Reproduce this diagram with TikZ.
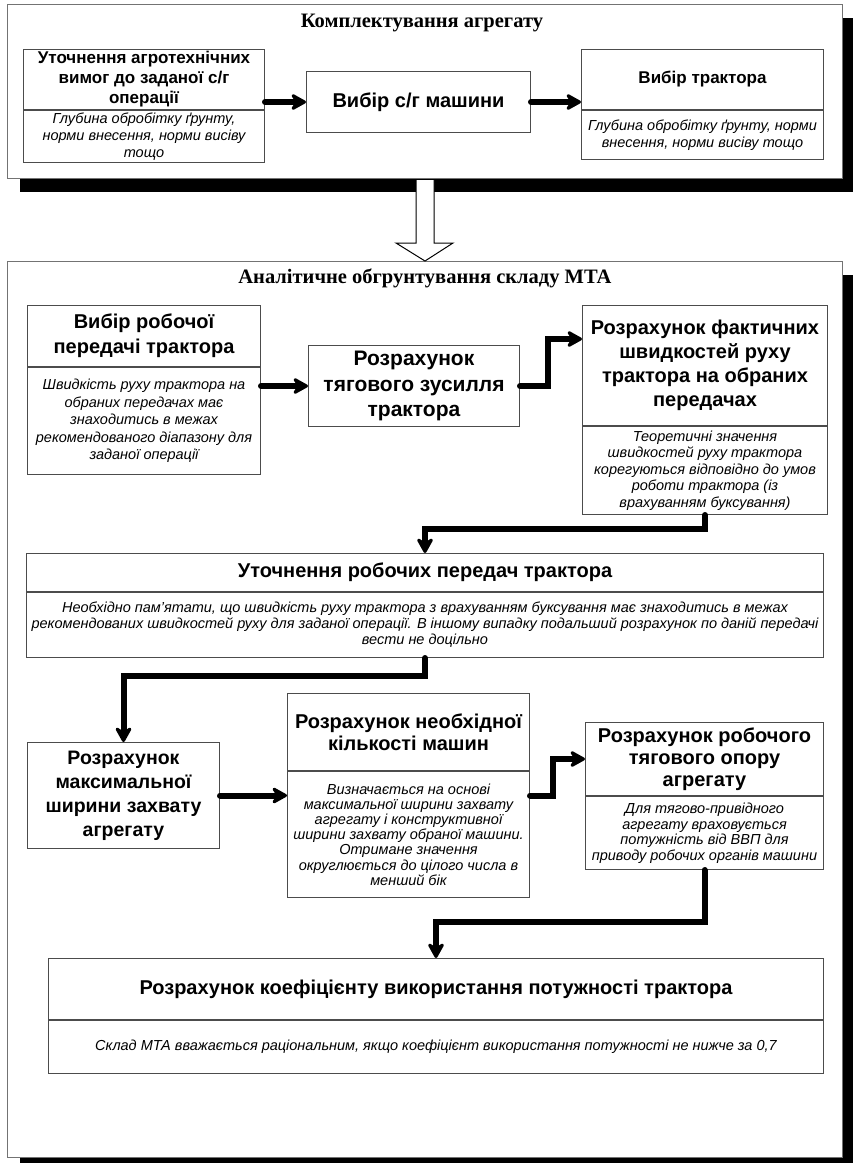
\documentclass[tikz,border=0pt]{standalone}
\usepackage{fontspec}
\setmainfont{Liberation Sans}
\newfontfamily\framefont{Liberation Serif}
\usepackage{tikz}
\usetikzlibrary{positioning,calc,shadows,arrows.meta}

\tikzset{
  frame/.style={draw=black!55, line width=1pt, fill=white,
    drop shadow={shadow xshift=12pt, shadow yshift=-13pt, fill=black, opacity=1}},
  frametitle/.style={font=\framefont\bfseries\fontsize{20.5}{24}\selectfont},
  hdbox/.style={draw=black!70, line width=1pt, fill=white, align=center, inner sep=2pt,
    font=\bfseries\fontsize{20}{24}\selectfont},
  smallhd/.style={font=\bfseries\fontsize{17}{20}\selectfont},
  dsbox/.style={hdbox, font=\itshape\fontsize{14.5}{16.5}\selectfont},
  conn/.style={line width=6pt, line cap=round, -{Stealth[length=19pt, width=21pt, inset=7pt, round]}}
}

\begin{document}
\begin{tikzpicture}[x=1pt,y=-1pt]
    \useasboundingbox (0,0) rectangle (853,1163);
    \node[frame, anchor=north west, minimum width=835pt, minimum height=174pt] (topframe) at (7,4) {};
    \node[frame, anchor=north west, minimum width=835pt, minimum height=896pt] (lowframe) at (7,261) {};
    \draw[line width=1pt, fill=white] ($(topframe.south)+(-9,1)$) -- ($(lowframe.north)+(-9,-18)$) -- ($(lowframe.north)+(-29,-18)$)
      -- (lowframe.north) -- ($(lowframe.north)+(28,-18)$) -- ($(lowframe.north)+(9,-18)$) -- ($(topframe.south)+(9,1)$);
    \node[frametitle] (toptitle) at (422,23) {Комплектування агрегату};
    \node[frametitle] (lowtitle) at (425,278) {Аналітичне обгрунтування складу МТА};

    \node[hdbox, smallhd, anchor=north west, minimum width=241pt, minimum height=60pt] (A1hd) at (23,49) {Уточнення агротехнічних\\вимог до заданої с/г\\операції};
    \node[dsbox, below=0pt of A1hd, minimum width=241pt, minimum height=49pt, font=\itshape\fontsize{14.5}{17}\selectfont] (A1bd) {Глубина обробітку ґрунту,\\норми внесення, норми висіву\\тощо};
    \node[hdbox, anchor=north west, minimum width=224pt, minimum height=61pt] (A2) at (306,71) {Вибір с/г машини};
    \node[hdbox, smallhd, anchor=north west, minimum width=242pt, minimum height=60pt] (A3hd) at (581,49) {Вибір трактора};
    \node[dsbox, below=0pt of A3hd, minimum width=242pt, minimum height=49pt, font=\itshape\fontsize{14.5}{17}\selectfont] (A3bd) {Глубина обробітку ґрунту, норми\\внесення, норми висіву тощо};

    \node[hdbox, anchor=north west, minimum width=233pt, minimum height=61pt, font=\bfseries\fontsize{20}{25}\selectfont] (B1hd) at (27,305) {Вибір робочої\\передачі трактора};
    \node[dsbox, below=0pt of B1hd, minimum width=233pt, minimum height=107pt, font=\itshape\fontsize{14.5}{17.5}\selectfont] (B1bd) {Швидкість руху трактора на\\обраних передачах має\\знаходитись в межах\\рекомендованого діапазону для\\заданої операції};
    \node[hdbox, anchor=north west, minimum width=211pt, minimum height=81pt, font=\bfseries\fontsize{21}{25.5}\selectfont] (B2) at (308,345) {Розрахунок\\тягового зусилля\\трактора};
    \node[hdbox, anchor=north west, minimum width=245pt, minimum height=120pt] (B3hd) at (582,305) {Розрахунок фактичних\\швидкостей руху\\трактора на обраних\\передачах};
    \node[dsbox, below=0pt of B3hd, minimum width=245pt, minimum height=88pt] (B3bd) {Теоретичні значення\\швидкостей руху трактора\\корегуються відповідно до умов\\роботи трактора (із\\врахуванням буксування)};

    \node[hdbox, anchor=north west, minimum width=797pt, minimum height=38pt] (Chd) at (26,553) {Уточнення робочих передач трактора};
    \node[dsbox, below=0pt of Chd, minimum width=797pt, minimum height=65pt, font=\itshape\fontsize{14.5}{16}\selectfont] (Cbd) {Необхідно пам'ятати, що швидкість руху трактора з врахуванням буксування має знаходитись в межах\\рекомендованих швидкостей руху для заданої операції. В іншому випадку подальший розрахунок по даній передачі\\вести не доцільно};

    \node[hdbox, anchor=north west, minimum width=192pt, minimum height=106pt, font=\bfseries\fontsize{19.5}{24}\selectfont] (D1) at (27,742) {Розрахунок\\максимальної\\ширини захвату\\агрегату};
    \node[hdbox, anchor=north west, minimum width=242pt, minimum height=77pt, font=\bfseries\fontsize{20}{22}\selectfont] (D2hd) at (287,693) {Розрахунок необхідної\\кількості машин};
    \node[dsbox, below=0pt of D2hd, minimum width=242pt, minimum height=126pt, font=\itshape\fontsize{14.5}{15.2}\selectfont] (D2bd) {Визначається на основі\\максимальної ширини захвату\\агрегату і конструктивної\\ширини захвату обраної машини.\\Отримане значення\\округлюється до цілого числа в\\менший бік};
    \node[hdbox, anchor=north west, minimum width=238pt, minimum height=73pt, font=\bfseries\fontsize{20}{22}\selectfont] (D3hd) at (585,722) {Розрахунок робочого\\тягового опору\\агрегату};
    \node[dsbox, below=0pt of D3hd, minimum width=238pt, minimum height=73pt, font=\itshape\fontsize{14.5}{15.5}\selectfont] (D3bd) {Для тягово-привідного\\агрегату враховується\\потужність від ВВП для\\приводу робочих органів машини};

    \node[hdbox, anchor=north west, minimum width=775pt, minimum height=61pt] (Ehd) at (48,958) {Розрахунок коефіцієнту використання потужності трактора};
    \node[dsbox, below=0pt of Ehd, minimum width=775pt, minimum height=53pt] (Ebd) {Склад МТА вважається раціональним, якщо коефіцієнт використання потужності не нижче за 0,7};

    \draw[conn] (A2.west -| A1hd.east) -- (A2.west);
    \draw[conn] (A2.east) -- (A2.east -| A3hd.west);
    \draw[conn] (B2.west -| B1hd.east) -- (B2.west);
    \draw[conn] (B2.east) -- ++(28,0) |- ($(B3hd.north west)+(0,34)$);
    \draw[conn] (B3bd.south) -- ++(0,14) -| (Chd.north);
    \draw[conn] (Cbd.south) -- ++(0,18) -| (D1.north);
    \draw[conn] (D1.east) -- (D1.east -| D2hd.west);
    \draw[conn] (D1.east -| D2bd.east) -- ++(23,0) |- (D3hd.west);
    \draw[conn] (D3bd.south) -- ++(0,52) -| (Ehd.north);
\end{tikzpicture}
\end{document}
